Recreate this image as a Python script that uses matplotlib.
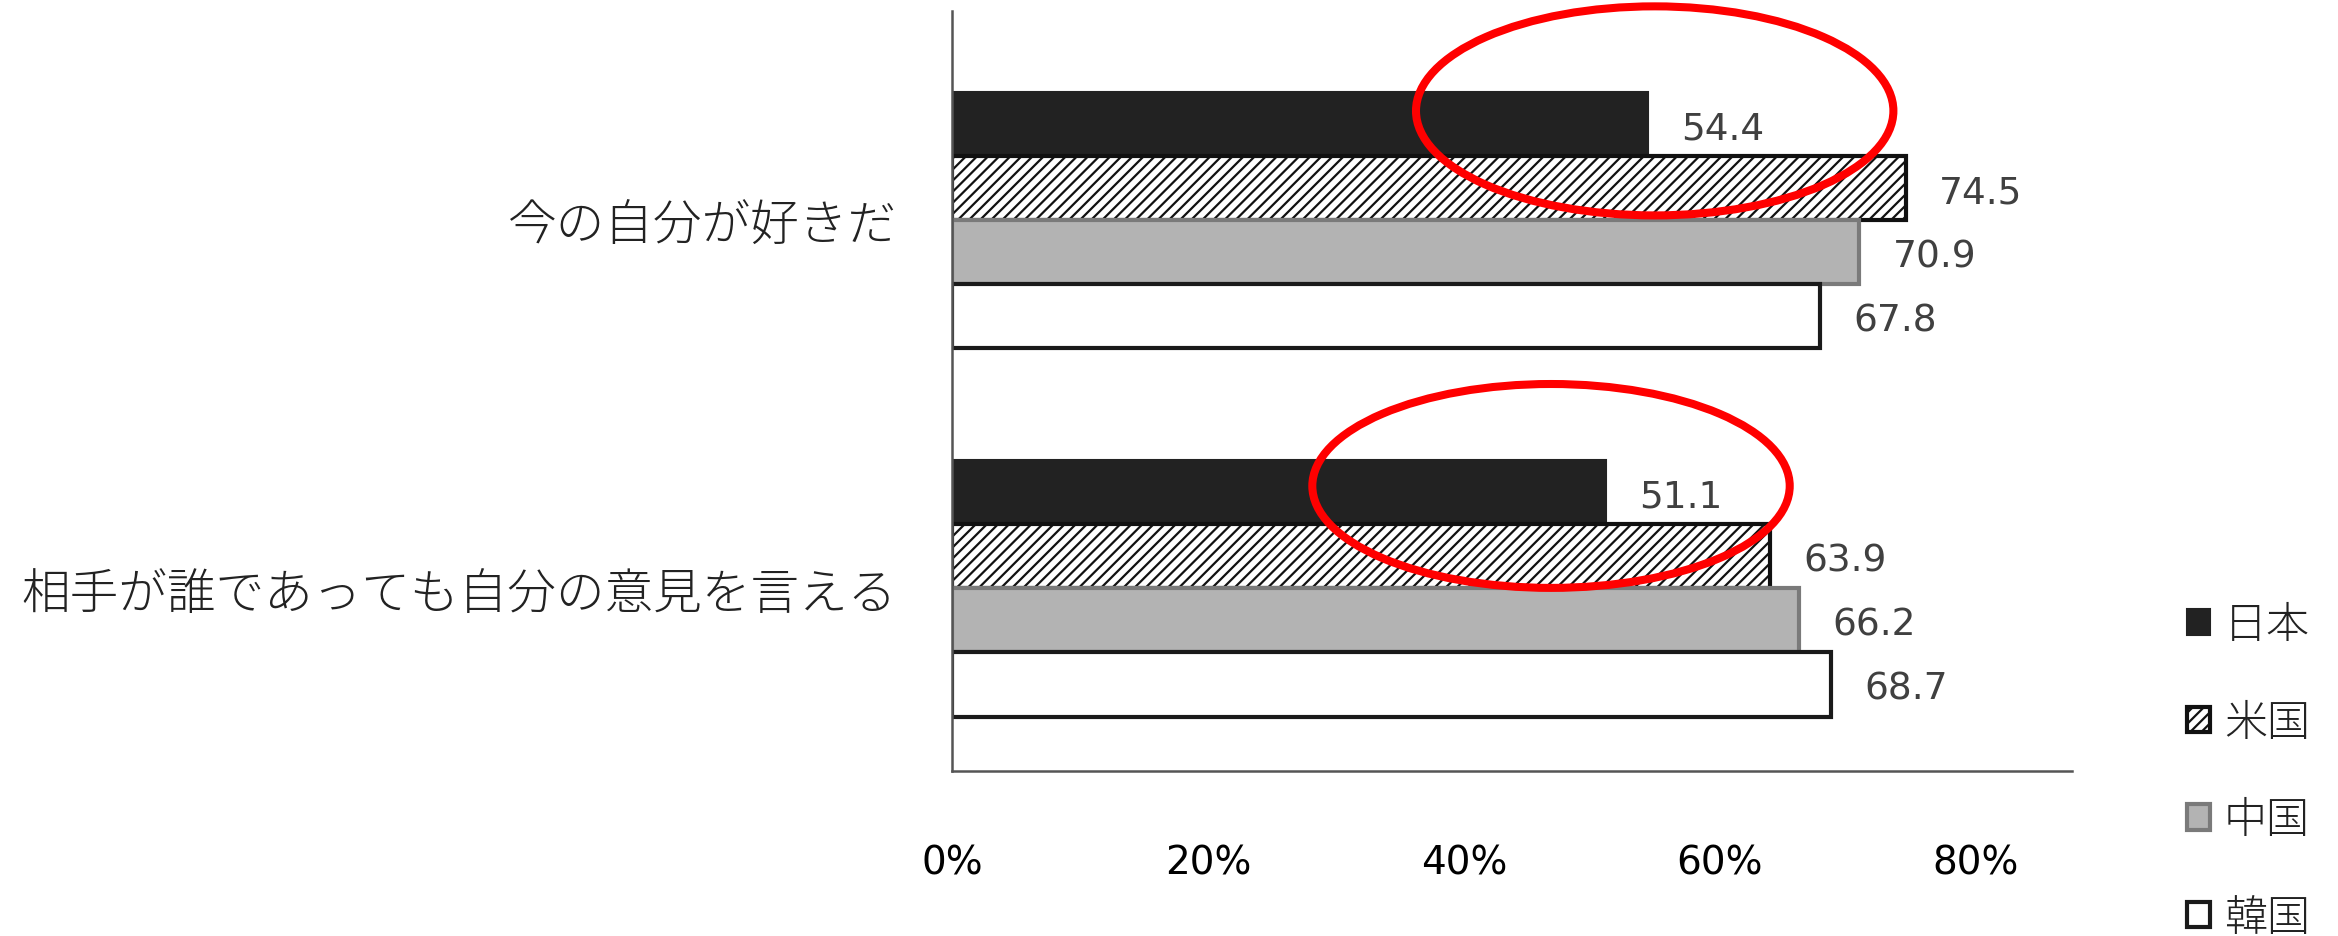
import matplotlib
matplotlib.use("Agg")
import matplotlib.pyplot as plt
from matplotlib.patches import Ellipse
import numpy as np

plt.rcParams['font.family'] = ['Noto Sans CJK JP', 'DejaVu Sans']
plt.rcParams['hatch.linewidth'] = 1.6

categories = ["今の自分が好きだ", "相手が誰であっても自分の意見を言える"]
series_names = ["日本", "米国", "中国", "韓国"]
values = {
    "日本": [54.4, 51.1],
    "米国": [74.5, 63.9],
    "中国": [70.9, 66.2],
    "韓国": [67.8, 68.7],
}
xticks = [0, 20, 40, 60, 80]
xticklabels = ["0%", "20%", "40%", "60%", "80%"]

styles = {
    "日本": dict(facecolor="#222222", edgecolor="#222222", linewidth=1.5),
    "米国": dict(facecolor="white", edgecolor="#111111", linewidth=3, hatch="///"),
    "中国": dict(facecolor="#b3b3b3", edgecolor="#7a7a7a", linewidth=3),
    "韓国": dict(facecolor="white", edgecolor="#1a1a1a", linewidth=3),
}

fig = plt.figure(figsize=(23.38, 9.37), dpi=100)
ax = fig.add_axes([0.4072, 0.1761, 0.479, 0.8111])

h = 0.174
y = np.arange(len(categories))
num_font = ['Liberation Sans Narrow', 'DejaVu Sans']
handles = []
for i, name in enumerate(series_names):
    pos = y + (i - 1.5) * h
    bars = ax.barh(pos, values[name], height=h, label=name, **styles[name])
    handles.append(bars)
    for yy, v in zip(pos, values[name]):
        ax.text(v + 2.6, yy + 0.01, f"{v:.1f}", va="center", ha="left",
                fontsize=27, color="#404040", family=num_font)

ax.set_xlim(0, 87.5)
ax.set_ylim(1.496, -0.569)
ax.set_yticks(y)
ax.set_yticklabels(categories, fontsize=35, color="#222222", fontweight="light")
ax.set_xticks(xticks)
ax.set_xticklabels(xticklabels, fontsize=28, color="black", family=num_font)
ax.tick_params(axis="y", length=0, pad=40)
ax.tick_params(axis="x", length=0, pad=52)
for s in ["top", "right"]:
    ax.spines[s].set_visible(False)
ax.spines["left"].set_color("#555555")
ax.spines["left"].set_linewidth(1.8)
ax.spines["bottom"].set_color("#555555")
ax.spines["bottom"].set_linewidth(1.8)

# red highlight ellipses
for (cx, cy, w, hh) in [(54.9, -0.2976, 37.3, 0.568), (46.8, 0.7215, 37.3, 0.554)]:
    e = Ellipse((cx, cy), w, hh, fill=False, edgecolor="#ff0000", linewidth=5.8,
                clip_on=False, zorder=5)
    ax.add_patch(e)

leg = fig.legend(handles=handles, labels=series_names, loc="upper left",
                 bbox_to_anchor=(2170 / 2338, 1 - 586 / 937), frameon=False,
                 fontsize=31, handlelength=0.53, handleheight=0.53, handletextpad=0.32,
                 labelspacing=1.22, borderaxespad=0)
for t in leg.get_texts():
    t.set_color("#222222")
    t.set_fontweight("light")

fig.savefig("out.png", dpi=100)
